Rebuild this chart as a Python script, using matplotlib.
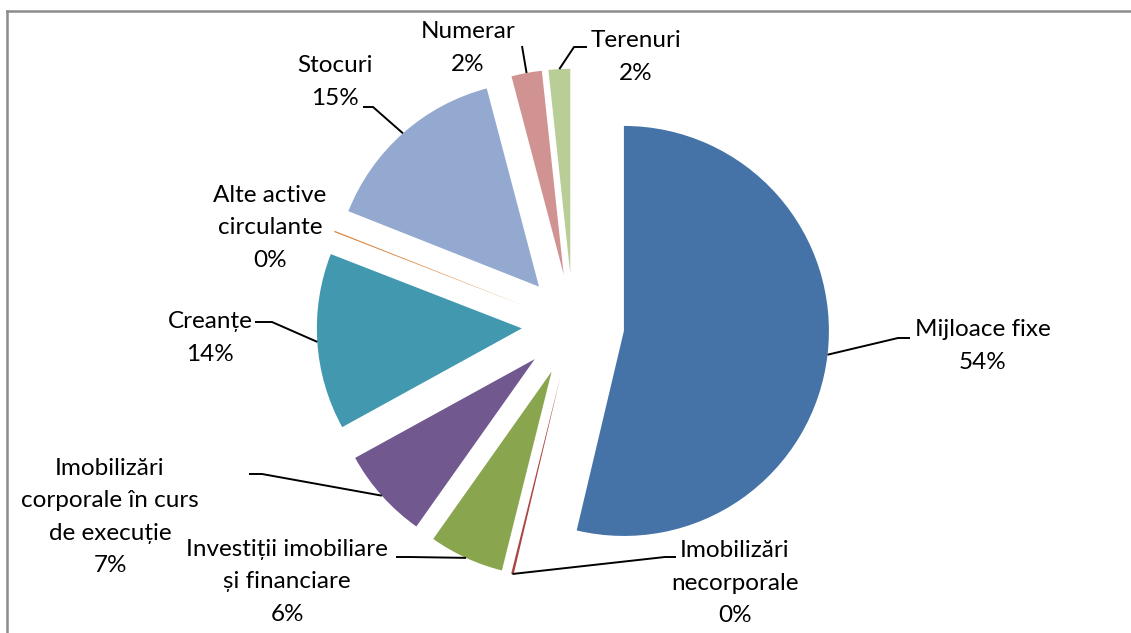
import matplotlib.pyplot as plt
from matplotlib.lines import Line2D
import numpy as np

# date
categorii = ['Mijloace fixe', 'Imobilizări\nnecorporale', 'Investiții imobiliare\nși financiare',
             'Imobilizări\ncorporale în curs\nde execuție', 'Creanțe', 'Alte active\ncirculante',
             'Stocuri', 'Numerar', 'Terenuri']
valori = [53.7, 0.2, 5.9, 7.2, 13.9, 0.1, 14.9, 2.4, 1.7]
culori = ['#4572A7', '#AA4643', '#89A54E', '#71588F', '#4198AF',
          '#DB843D', '#93A9CF', '#D19392', '#B9CD96']

# pozitii etichete (pixeli): centru text, cot linie, capat linie
text_pos = [(983, 346), (735, 583), (287, 582), (110, 517), (210, 338),
            (270, 228), (335, 82), (468, 48), (636, 57)]
cot_pos = [(898, 338), (665, 557), (410, 557), (262, 474), (272, 322),
           None, (373, 107), None, (574, 47)]
capat_pos = [(910, 338), (676, 557), (396, 557), (249, 474), (255, 322),
             None, (363, 107), (522, 46), (587, 47)]

W, H = 1131, 633
CX, CY, R = 573, 325, 205


def px(x, y):
    return ((x - CX) / R, (CY - y) / R)


plt.rcParams['font.family'] = ['Lato', 'DejaVu Sans']

fig = plt.figure(figsize=(W / 100, H / 100), dpi=100)
ax = fig.add_axes([0, 0, 1, 1])

wedges, _ = ax.pie(valori, colors=culori, startangle=90, counterclock=False,
                   explode=[0.25] * len(valori), radius=1,
                   wedgeprops=dict(linewidth=0))

ax.set_xlim(-CX / R, (W - CX) / R)
ax.set_ylim(-(H - CY) / R, CY / R)
ax.set_aspect('auto')
ax.axis('off')

total = sum(valori)
for i, w in enumerate(wedges):
    eticheta = categorii[i] + '\n' + f'{round(valori[i] / total * 100)}%'
    tx, ty = px(*text_pos[i])
    ax.text(tx, ty, eticheta, ha='center', va='center', fontsize=17.5,
            linespacing=1.68, color='black')
    if capat_pos[i] is None:
        continue
    # linia de legatura porneste din mijlocul arcului feliei
    tm = np.deg2rad((w.theta1 + w.theta2) / 2)
    sx = w.center[0] + w.r * np.cos(tm)
    sy = w.center[1] + w.r * np.sin(tm)
    xs, ys = [sx], [sy]
    if cot_pos[i] is not None:
        xs.append(px(*cot_pos[i])[0]); ys.append(px(*cot_pos[i])[1])
    xs.append(px(*capat_pos[i])[0]); ys.append(px(*capat_pos[i])[1])
    ax.plot(xs, ys, color='black', lw=1.4, solid_capstyle='butt')

# chenar
fig.add_artist(Line2D([7 / W, 7 / W], [0, 1 - 11 / H], transform=fig.transFigure,
                      color='#8c8c8c', lw=1.8))
fig.add_artist(Line2D([7 / W, 1], [1 - 11 / H, 1 - 11 / H], transform=fig.transFigure,
                      color='#8c8c8c', lw=1.8))

plt.savefig('out.png', dpi=100)
